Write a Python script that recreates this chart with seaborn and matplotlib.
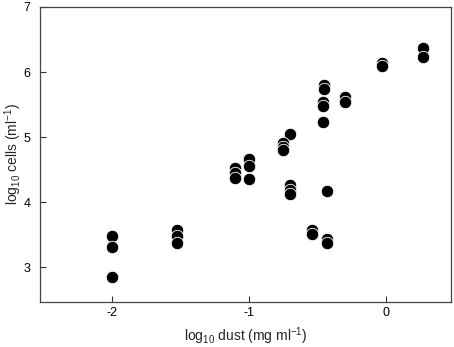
import pandas as pd
import matplotlib
matplotlib.use("Agg")
import matplotlib.pyplot as plt
import seaborn as sns

# values
dust = [0.27, 0.27, -0.03, -0.03,
        -0.45, -0.45, -0.30, -0.30, -0.46, -0.46, -0.46,
        -0.70, -0.75, -0.75, -0.75,
        -1.10, -1.10, -1.10, -1.00, -1.00, -1.00,
        -0.70, -0.70, -0.70, -0.43,
        -2.00, -2.00, -2.00,
        -1.53, -1.53, -1.53,
        -0.54, -0.54, -0.43, -0.43]
cells = [6.37, 6.23, 6.14, 6.10,
         5.80, 5.74, 5.61, 5.54, 5.54, 5.48, 5.23,
         5.05, 4.91, 4.85, 4.81,
         4.52, 4.45, 4.38, 4.66, 4.55, 4.35,
         4.26, 4.19, 4.12, 4.17,
         3.48, 3.31, 2.85,
         3.58, 3.48, 3.37,
         3.58, 3.51, 3.43, 3.38]

df = pd.DataFrame({"dust": dust, "cells": cells})

sns.set_style("ticks")
plt.rcParams["font.family"] = ["Liberation Sans", "DejaVu Sans"]
plt.rcParams["mathtext.fontset"] = "custom"
plt.rcParams["mathtext.rm"] = "Liberation Sans"
plt.rcParams["mathtext.it"] = "Liberation Sans:italic"
plt.rcParams["axes.unicode_minus"] = False

fig = plt.figure(figsize=(4.54, 3.47), dpi=100)
ax = fig.add_axes([0.088, 0.130, 0.905, 0.850])

sns.scatterplot(data=df, x="dust", y="cells", color="black",
                edgecolor="white", linewidth=0.6, s=80, ax=ax, zorder=3)

ax.set_xlim(-2.53, 0.475)
ax.set_ylim(2.47, 7.0)
ax.set_xticks([-2, -1, 0])
ax.set_yticks([3, 4, 5, 6, 7])
ax.tick_params(direction="in", length=4, width=0.8, labelsize=9, colors="#333333",
               labelcolor="black")
ax.tick_params(axis="x", pad=4)
ax.tick_params(axis="y", pad=7)
for sp in ax.spines.values():
    sp.set_visible(True)
    sp.set_color("#444444")
    sp.set_linewidth(0.9)

ax.set_xlabel(r"log$_{10}$ dust (mg ml$^{-1}$)", fontsize=10, va="center")
ax.set_ylabel(r"log$_{10}$ cells (ml$^{-1}$)", fontsize=10, va="center")
ax.xaxis.set_label_coords(0.5, -0.115)
ax.yaxis.set_label_coords(-0.064, 0.5)

fig.savefig("out.png", dpi=100)
